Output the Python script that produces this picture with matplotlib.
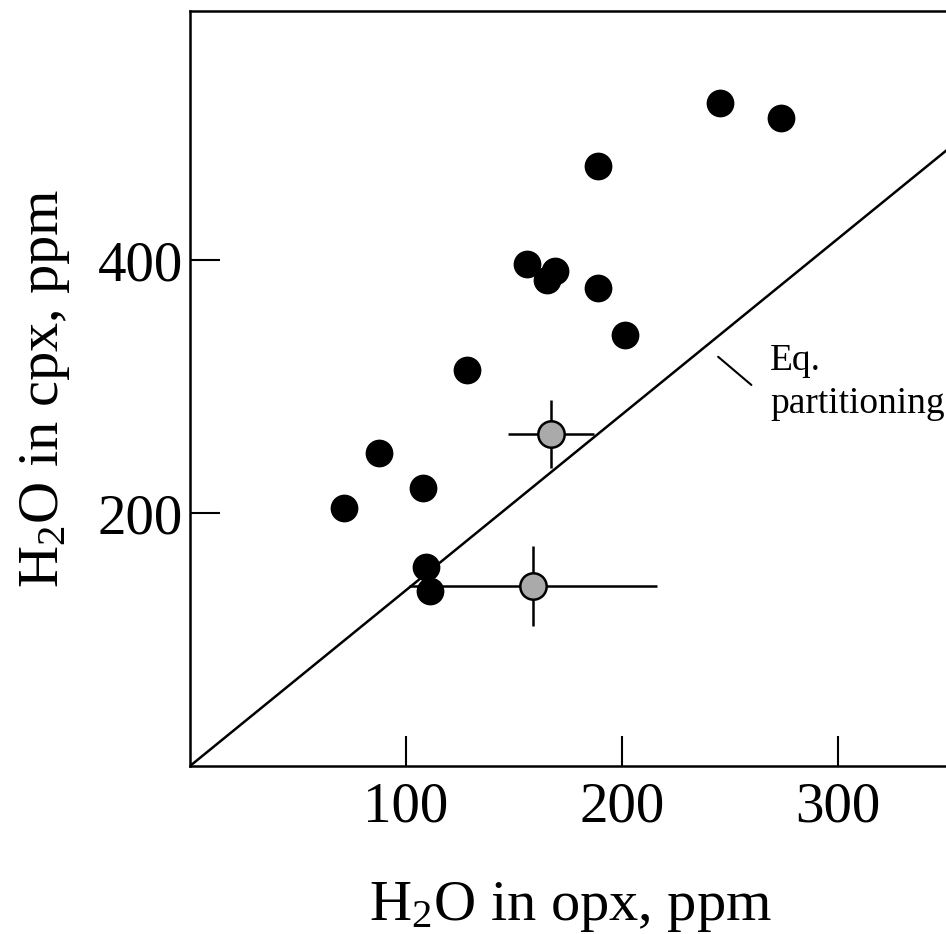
import numpy as np
import matplotlib
matplotlib.use("Agg")
import matplotlib.pyplot as plt

plt.rcParams['font.family'] = ['Liberation Serif', 'DejaVu Serif']
plt.rcParams['mathtext.fontset'] = 'custom'
plt.rcParams['mathtext.rm'] = 'Liberation Serif'
plt.rcParams['mathtext.it'] = 'Liberation Serif:italic'

# black samples: H2O in opx / cpx (ppm)
opx = [245.4, 273.5, 189.0, 156.2, 168.8, 165.3, 189.0, 201.6, 128.2, 87.6, 71.4, 107.7, 109.4, 110.9]
cpx = [524.0, 512.1, 474.7, 396.7, 391.4, 384.3, 378.2, 340.8, 312.9, 247.5, 204.0, 219.6, 157.1, 138.4]

# grey samples with error bars
opx_g = [167.1, 158.9]
cpx_g = [262.5, 142.6]
opx_err = [19.8, 57.3]
cpx_err = [27.0, 31.6]

eq_slope = 1.39  # equilibrium partitioning line

fig = plt.figure(figsize=(9.46, 9.34), dpi=100)
ax = fig.add_axes([190/946, 168/934, 756/946, 755/934])

xx = np.array([0, 350])
ax.plot(xx, eq_slope*xx, color='black', lw=1.8, zorder=1)

ax.errorbar(opx_g, cpx_g, xerr=opx_err, yerr=cpx_err, fmt='o', ms=19,
            mfc='#aaaaaa', mec='black', mew=1.8, ecolor='black', elinewidth=1.8,
            capsize=0, zorder=2)
ax.plot(opx, cpx, 'o', ms=20, color='black', mec='none', zorder=3)

# leader line for the label
ax.annotate('', xy=(244.5, 323.6), xytext=(259.9, 301.3),
            arrowprops=dict(arrowstyle='-', color='black', lw=1.5,
                            shrinkA=0, shrinkB=0))
ax.text(268.5, 334, 'Eq.\npartitioning', fontsize=27, va='top', ha='left',
        linespacing=1.3)

ax.set_xlim(0, 350)
ax.set_ylim(0, 597)
ax.set_xticks([100, 200, 300])
ax.set_yticks([200, 400])
ax.tick_params(direction='in', length=21.6, width=1.5, labelsize=41)
ax.tick_params(axis='x', pad=11)
ax.tick_params(axis='y', pad=5)
for s in ['left', 'bottom', 'top']:
    ax.spines[s].set_linewidth(1.8)
ax.spines['right'].set_visible(False)

ax.set_xlabel('H$_2$O in opx, ppm', fontsize=42, va='baseline')
ax.xaxis.set_label_coords(0.5026, -0.2035)
ax.set_ylabel('H$_2$O in cpx, ppm', fontsize=42, va='center')
ax.yaxis.set_label_coords(-0.192, 0.5)

fig.savefig('out.png', dpi=100)
